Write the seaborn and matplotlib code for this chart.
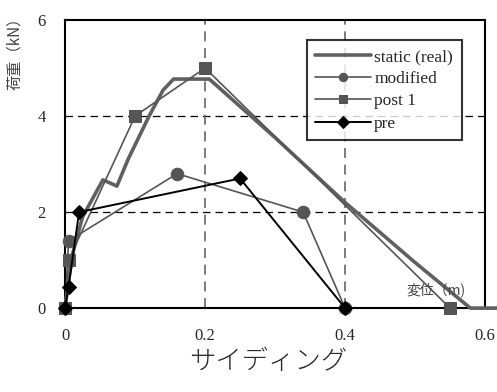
import pandas as pd
import matplotlib.pyplot as plt
import seaborn as sns

# values
static_x = [0.0, 0.004, 0.012, 0.025, 0.04, 0.054, 0.065, 0.074, 0.09, 0.12, 0.14, 0.155, 0.206, 0.3, 0.4, 0.5, 0.579, 0.617]
static_y = [0.0, 0.5, 1.2, 1.9, 2.3, 2.67, 2.6, 2.54, 3.1, 4.0, 4.54, 4.77, 4.77, 3.55, 2.2, 0.95, 0.0, 0.0]
mod_x = [0.0, 0.005, 0.16, 0.34, 0.4]
mod_y = [0.0, 1.4, 2.8, 2.0, 0.0]
post_x = [0.0, 0.005, 0.1, 0.2, 0.55]
post_y = [0.0, 1.0, 4.0, 5.0, 0.0]
pre_x = [0.0, 0.005, 0.02, 0.25, 0.4]
pre_y = [0.0, 0.45, 2.0, 2.7, 0.0]

sns.set_style("white")
plt.rcParams['font.family'] = ['Liberation Serif', 'Noto Sans CJK JP', 'DejaVu Sans']
jp = ['Noto Sans CJK JP', 'DejaVu Sans']

fig = plt.figure(figsize=(4.97, 3.92), dpi=100)
ax = fig.add_axes([0.131, 0.214, 0.845, 0.735])

# grid
for v in [2, 4]:
    ax.axhline(v, color="black", lw=0.9, ls=(0, (6, 4)), zorder=0)
for v in [0.2, 0.4]:
    ax.axvline(v, color="#666666", lw=1.2, ls=(0, (6, 4)), zorder=0)

df_static = pd.DataFrame({"x": static_x, "y": static_y})
sns.lineplot(data=df_static, x="x", y="y", sort=False, ax=ax, color="#606060",
             lw=2.6, label="static (real)", clip_on=False, zorder=3)

df_mod = pd.DataFrame({"x": mod_x, "y": mod_y})
sns.lineplot(data=df_mod, x="x", y="y", sort=False, ax=ax, color="#555555", lw=1.2,
             marker="o", markersize=9, markeredgecolor="#555555", label="modified",
             clip_on=False, zorder=4)

df_post = pd.DataFrame({"x": post_x, "y": post_y})
sns.lineplot(data=df_post, x="x", y="y", sort=False, ax=ax, color="#555555", lw=1.2,
             marker="s", markersize=9, markeredgecolor="#555555", label="post 1",
             clip_on=False, zorder=4)

df_pre = pd.DataFrame({"x": pre_x, "y": pre_y})
sns.lineplot(data=df_pre, x="x", y="y", sort=False, ax=ax, color="black", lw=1.4,
             marker="D", markersize=7, markeredgecolor="black", label="pre",
             clip_on=False, zorder=5)

ax.set_xlim(0, 0.6)
ax.set_ylim(0, 6)
ax.set_xticks([0, 0.2, 0.4, 0.6])
ax.set_xticklabels(["0", "0.2", "0.4", "0.6"])
ax.set_yticks([0, 2, 4, 6])
ax.set_yticklabels(["0", "2", "4", "6"])
ax.tick_params(length=0, labelsize=12, pad=14)
for s in ax.spines.values():
    s.set_color("black")
    s.set_linewidth(1.5)

ax.set_xlabel("")
ax.set_ylabel("")
fig.text(0.03, 0.975, "荷重（kN）", rotation=90, ha="center", va="top", fontsize=11,
         color="#444444", family=jp)
ax.text(0.487, 0.22, "変位（m)", fontsize=10, color="#444444", ha="left", va="bottom",
        family=jp)
fig.text(0.54, 0.078, "サイディング", ha="center", va="center", fontsize=19,
         family=jp, fontweight="light")

leg = ax.legend(loc="upper right", bbox_to_anchor=(0.965, 0.96), fontsize=12.5, frameon=True,
                fancybox=False, edgecolor="black", handlelength=3.2, handletextpad=0.2,
                borderpad=0.5, labelspacing=0.35)
leg.get_frame().set_linewidth(1.5)
for h in leg.legend_handles:
    h.set_markersize(6)

fig.savefig("out.png", dpi=100)
